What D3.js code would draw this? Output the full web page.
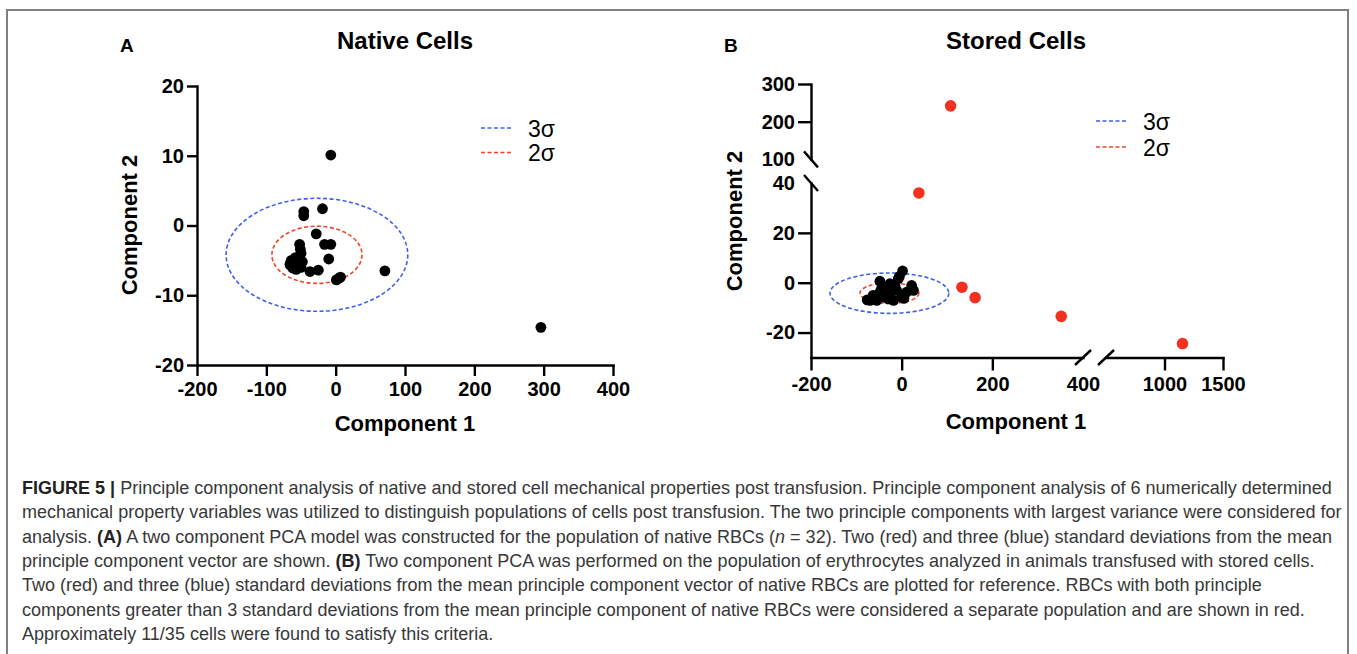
<!DOCTYPE html>
<html>
<head>
<meta charset="utf-8">
<script src="https://cdn.jsdelivr.net/npm/d3@7"></script>
<style>
  body { margin: 0; background: #fff; }
  svg { display: block; }
  .tick text { font-family: "Liberation Sans", Arial, sans-serif; font-weight: 700; font-size: 20px; fill: #000; }
</style>
</head>
<body>
<svg id="fig" width="1357" height="654"></svg>
<script>
// Native cells (panel A), component 1 / component 2
const nativeX = [-7, -46, -46, -19, -28, -16, -7, -10, -52, -50, -48, -64, -66, -62, -57, -54, -60, -50, -37, -25, 1, 7, 4, 71, 296, -58, -51, -65];
const nativeY = [10.1, 2.0, 1.4, 2.4, -1.2, -2.7, -2.7, -4.8, -2.7, -4.0, -5.2, -5.0, -5.6, -6.1, -6.3, -5.4, -5.8, -6.0, -6.6, -6.4, -7.8, -7.4, -7.6, -6.5, -14.6, -4.6, -3.4, -5.3];

// Stored cells (panel B) inside the native population
const storedX = [2, -7.5, -48, 22, 26, -26, -76, -70, -63, -48, -40, -26, -11, 0, 11, -55, -18, -33, -5, -58, -30, -44, -15, 5];
const storedY = [4.7, 1.6, 0.6, -1.1, -3.1, -0.4, -6.9, -7.1, -5.1, -3.8, -5.8, -4.4, -3.1, -5.8, -3.8, -7.1, -7.1, -1.8, 2.5, -6.2, -6.5, -2.0, -1.0, -6.3];

// Stored cells beyond 3 sigma (red)
const outlierX = [108, 38, 133, 162, 352, 1154];
const outlierY = [242, 36, -1.8, -6.0, -13.5, -24.4];

// sigma ellipses of the native population
const sigmaNames = ["3σ", "2σ"];
const sigmaCenter = [-27, -4.2];
const sigmaRx = [131, 65];
const sigmaRy = [8.1, 4.1];
const sigmaColors = ["#3d60f0", "#f0452a"];

// ticks
const xTicksA = [-200, -100, 0, 100, 200, 300, 400];
const yTicksA = [-20, -10, 0, 10, 20];
const xTicksBLow = [-200, 0, 200, 400];
const xTicksBHigh = [1000, 1500];
const yTicksBLow = [-20, 0, 20, 40];
const yTicksBHigh = [100, 200, 300];

const captionLines = [
  [["FIGURE 5 | ", "b"], ["Principle component analysis of native and stored cell mechanical properties post transfusion. Principle component analysis of 6 numerically determined"]],
  [["mechanical property variables was utilized to distinguish populations of cells post transfusion. The two principle components with largest variance were considered for"]],
  [["analysis. "], ["(A)", "b"], [" A two component PCA model was constructed for the population of native RBCs ("], ["n", "i"], [" = 32). Two (red) and three (blue) standard deviations from the mean"]],
  [["principle component vector are shown. "], ["(B)", "b"], [" Two component PCA was performed on the population of erythrocytes analyzed in animals transfused with stored cells."]],
  [["Two (red) and three (blue) standard deviations from the mean principle component vector of native RBCs are plotted for reference. RBCs with both principle"]],
  [["components greater than 3 standard deviations from the mean principle component of native RBCs were considered a separate population and are shown in red."]],
  [["Approximately 11/35 cells were found to satisfy this criteria."]]
];

const svg = d3.select("#fig");
const FONT = '"Liberation Sans", Arial, sans-serif';
const AXW = 2.4;

// frame
svg.append("path")
  .attr("d", "M7,660 V10 H1348 V660")
  .attr("fill", "none")
  .attr("stroke", "#808080")
  .attr("stroke-width", 2);

function styleAxis(sel) {
  sel.select(".domain").attr("stroke-width", AXW).attr("stroke-linecap", "square");
  sel.selectAll(".tick line").attr("stroke-width", AXW);
}

function label(x, y, txt, size, weight, anchor, rot) {
  const t = svg.append("text")
    .attr("x", x).attr("y", y)
    .attr("font-family", FONT)
    .attr("font-size", size)
    .attr("font-weight", weight)
    .attr("text-anchor", anchor)
    .text(txt);
  if (rot) t.attr("transform", `rotate(-90,${x},${y})`);
  return t;
}

function sigmaEllipses(g, xs, ys) {
  sigmaNames.forEach((n, i) => {
    g.append("ellipse")
      .attr("cx", xs(sigmaCenter[0]))
      .attr("cy", ys(sigmaCenter[1]))
      .attr("rx", xs(sigmaCenter[0] + sigmaRx[i]) - xs(sigmaCenter[0]))
      .attr("ry", ys(sigmaCenter[1]) - ys(sigmaCenter[1] + sigmaRy[i]))
      .attr("fill", "none")
      .attr("stroke", sigmaColors[i])
      .attr("stroke-width", 1.6)
      .attr("stroke-dasharray", "4,2.5");
  });
}

function legend(x, y, gap) {
  sigmaNames.forEach((n, i) => {
    svg.append("line")
      .attr("x1", x).attr("x2", x + 31)
      .attr("y1", y + i * gap).attr("y2", y + i * gap)
      .attr("stroke", sigmaColors[i])
      .attr("stroke-width", 1.6)
      .attr("stroke-dasharray", "4,2.5");
    label(x + 47, y + i * gap + 8.5, n, 23, 400, "start");
  });
}

const fmt = d => String(d);

// ---------- Panel A ----------
const xA = d3.scaleLinear().domain([-200, 400]).range([197, 613]);
const yA = d3.scaleLinear().domain([-20, 20]).range([365, 86]);

svg.append("g")
  .attr("transform", `translate(0,${yA(-20)})`)
  .call(d3.axisBottom(xA).tickValues(xTicksA).tickFormat(fmt).tickSize(11).tickPadding(6).tickSizeOuter(0))
  .call(styleAxis);

svg.append("g")
  .attr("transform", `translate(${xA(-200)},0)`)
  .call(d3.axisLeft(yA).tickValues(yTicksA).tickFormat(fmt).tickSize(10).tickPadding(3).tickSizeOuter(0))
  .call(styleAxis);

const gA = svg.append("g");
sigmaEllipses(gA, xA, yA);
gA.selectAll("circle")
  .data(nativeX.map((x, i) => [x, nativeY[i]]))
  .join("circle")
  .attr("cx", d => xA(d[0]))
  .attr("cy", d => yA(d[1]))
  .attr("r", 5.4)
  .attr("fill", "#000");

legend(481, 128, 24.5);
label(120, 52, "A", 19, 700, "start");
label(405, 49, "Native Cells", 24, 700, "middle");
label(405, 431, "Component 1", 22, 700, "middle");
label(137, 225, "Component 2", 22, 700, "middle", true);

// ---------- Panel B (broken axes) ----------
const xBL = d3.scaleLinear().domain([-200, 400]).range([811, 1083]);
const xBH = d3.scaleLinear().domain([500, 1500]).range([1106, 1223]);
const yBL = d3.scaleLinear().domain([-30, 40]).range([357.5, 183]);
const yBH = d3.scaleLinear().domain([100, 300]).range([159.4, 84]);
const xB = v => (v < 450 ? xBL(v) : xBH(v));
const yB = v => (v > 70 ? yBH(v) : yBL(v));
const axY = yBL(-30), axX = xBL(-200);

svg.append("g")
  .attr("transform", `translate(0,${axY})`)
  .call(d3.axisBottom(xBL).tickValues(xTicksBLow).tickFormat(fmt).tickSize(13).tickPadding(6).tickSizeOuter(0))
  .call(styleAxis)
  .call(g => g.selectAll(".tick").filter(d => d === 400).select("line").remove());

svg.append("g")
  .attr("transform", `translate(0,${axY})`)
  .call(d3.axisBottom(xBH).tickValues(xTicksBHigh).tickFormat(fmt).tickSize(13).tickPadding(6).tickSizeOuter(0))
  .call(styleAxis);

svg.append("g")
  .attr("transform", `translate(${axX},0)`)
  .call(d3.axisLeft(yBL).tickValues(yTicksBLow).tickFormat(fmt).tickSize(13).tickPadding(3).tickSizeOuter(0))
  .call(styleAxis)
  .call(g => g.selectAll(".tick").filter(d => d === 40).select("line").remove());

svg.append("g")
  .attr("transform", `translate(${axX},0)`)
  .call(d3.axisLeft(yBH).tickValues(yTicksBHigh).tickFormat(fmt).tickSize(13).tickPadding(3).tickSizeOuter(0))
  .call(styleAxis)
  .call(g => g.selectAll(".tick").filter(d => d === 100).select("line").remove());

// break marks
[[axX, yBH(100)], [axX, yBL(40)]].forEach(([x, y]) => {
  svg.append("line").attr("x1", x - 7).attr("y1", y - 8).attr("x2", x + 7).attr("y2", y + 8)
    .attr("stroke", "#000").attr("stroke-width", AXW);
});
[[xBL(400), axY], [xBH(500), axY]].forEach(([x, y]) => {
  svg.append("line").attr("x1", x - 8).attr("y1", y + 7.5).attr("x2", x + 8).attr("y2", y - 7.5)
    .attr("stroke", "#000").attr("stroke-width", AXW);
});

const gB = svg.append("g");
sigmaEllipses(gB, xBL, yBL);
gB.selectAll("circle.stored")
  .data(storedX.map((x, i) => [x, storedY[i]]))
  .join("circle")
  .attr("class", "stored")
  .attr("cx", d => xB(d[0]))
  .attr("cy", d => yB(d[1]))
  .attr("r", 5.4)
  .attr("fill", "#000");
gB.selectAll("circle.out")
  .data(outlierX.map((x, i) => [x, outlierY[i]]))
  .join("circle")
  .attr("class", "out")
  .attr("cx", d => xB(d[0]))
  .attr("cy", d => yB(d[1]))
  .attr("r", 5.8)
  .attr("fill", "#f2321f");

legend(1096, 121, 26);
label(724, 52, "B", 19, 700, "start");
label(1016, 49, "Stored Cells", 24, 700, "middle");
label(1016, 429, "Component 1", 22, 700, "middle");
label(742, 221, "Component 2", 22, 700, "middle", true);

// ---------- caption ----------
const cap = svg.append("g")
  .attr("font-family", '"Liberation Sans Narrow", "Liberation Sans", Arial, sans-serif')
  .attr("font-size", 16)
  .attr("fill", "#383838");
captionLines.forEach((segs, i) => {
  const t = cap.append("text").attr("x", 22).attr("y", 494 + i * 24.3);
  segs.forEach(s => {
    t.append("tspan")
      .attr("font-weight", s[1] === "b" ? 700 : null)
      .attr("font-style", s[1] === "i" ? "italic" : null)
      .attr("fill", s[1] === "b" ? "#222" : null)
      .text(s[0]);
  });
});
// fit the first line to the width it has in the figure
const w0 = cap.select("text").node().getComputedTextLength();
cap.attr("font-size", 16 * 1311 / w0);
</script>
</body>
</html>
